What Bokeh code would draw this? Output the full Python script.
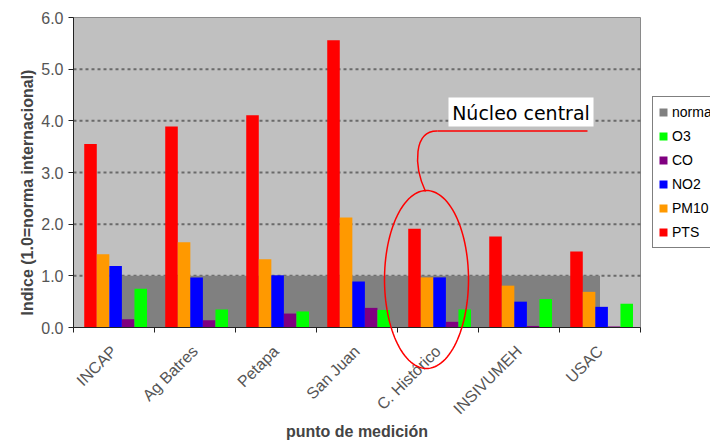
import math
import numpy as np
from bokeh.plotting import figure
from bokeh.models import (Range1d, LinearAxis, FixedTicker, Legend, LegendItem, Label,
                          PolyAnnotation, BoxAnnotation, PrintfTickFormatter, ColumnDataSource)
from bokeh.embed import file_html
from bokeh.resources import INLINE

# ---------------- data ----------------
sites = ["INCAP", "Ag Batres", "Petapa", "San Juan", "C. Histórico", "INSIVUMEH", "USAC"]
pts   = [3.55, 3.89, 4.11, 5.56, 1.91, 1.76, 1.47]
pm10  = [1.42, 1.65, 1.32, 2.13, 0.97, 0.81, 0.69]
no2   = [1.19, 0.97, 1.01, 0.89, 0.97, 0.50, 0.40]
co    = [0.16, 0.14, 0.27, 0.38, 0.11, 0.03, 0.02]
o3    = [0.75, 0.35, 0.31, 0.34, 0.35, 0.55, 0.46]
norma = [1.0, 1.0, 1.0, 1.0, 1.0, 1.0, 1.0]
y_ticks = [0, 1, 2, 3, 4, 5, 6]

series_names = ["PTS", "PM10", "NO2", "CO", "O3"]
series_values = [pts, pm10, no2, co, o3]
series_colors = ["#ff0000", "#ff9900", "#0000ff", "#800080", "#00ff00"]
legend_order = ["norma", "O3", "CO", "NO2", "PM10", "PTS"]

ncat = len(sites)
ymax = y_ticks[-1]
centers = [i + 0.5 for i in range(ncat)]
bounds = list(range(ncat + 1))

# ---------------- layout (pixels) ----------------
W, H = 710, 442                    # whole canvas is the frame
LEFT, TOP = 73, 17                 # plot-area top-left on the page
PLOT_W, PLOT_H = 567, 310          # plot-area size
xpx = PLOT_W / ncat
ypx = PLOT_H / ymax
x_range = Range1d(-LEFT / xpx, (W - LEFT) / xpx)
y_range = Range1d(-(H - TOP - PLOT_H) / ypx, ymax + TOP / ypx)

p = figure(x_range=x_range, y_range=y_range, frame_width=W, frame_height=H,
           min_border_left=0, min_border_top=0, min_border_right=0, min_border_bottom=0,
           output_backend="svg", toolbar_location=None,
           x_axis_location=None, y_axis_location=None,
           background_fill_color="white", border_fill_color="white")
p.outline_line_color = None
for g in p.grid:
    g.visible = False
    g.grid_line_color = None


def dx(px):
    return (px - LEFT) / xpx


def dy(py):
    return (TOP + PLOT_H - py) / ypx


# plot area background and dotted grid
p.quad(left=[0], right=[ncat], bottom=[0], top=[ymax], fill_color="#c0c0c0",
       line_color="#8a8a8a", line_width=1)
p.segment(x0=[0] * (len(y_ticks) - 2), x1=[ncat] * (len(y_ticks) - 2),
          y0=y_ticks[1:-1], y1=y_ticks[1:-1],
          line_color="#6a6a6a", line_dash="3 3", line_width=2)

# y axis at x = 0
ya = LinearAxis(fixed_location=0, bounds=(0, ymax), ticker=FixedTicker(ticks=y_ticks),
                formatter=PrintfTickFormatter(format="%.1f"),
                major_tick_in=0, major_tick_out=5, minor_tick_line_color=None,
                axis_line_color="#222222", major_tick_line_color="#222222",
                major_label_text_font="Liberation Sans", major_label_text_font_size="16px",
                major_label_text_color="#555555", major_label_standoff=5)
p.add_layout(ya, "left")
ytitle = Label(x=dx(27), y=dy(192), text="Indice (1.0=norma internacional)",
               angle=math.pi / 2, text_align="center", text_baseline="middle",
               text_font="Liberation Sans", text_font_size="16px", text_font_style="bold",
               text_color="#444444")
p.add_layout(ytitle)

# x axes at y = 0: tick marks between categories, labels at centers
tick_axis = LinearAxis(fixed_location=0, bounds=(0, ncat), ticker=FixedTicker(ticks=bounds),
                       major_label_text_font_size="0px", major_label_text_alpha=0,
                       major_label_standoff=0, major_tick_in=0, major_tick_out=5,
                       minor_tick_line_color=None, axis_line_color="#222222",
                       major_tick_line_color="#222222")
p.add_layout(tick_axis, "below")
cat_axis = LinearAxis(fixed_location=0, bounds=(0, ncat), ticker=FixedTicker(ticks=centers),
                      major_label_overrides={c: s for c, s in zip(centers, sites)},
                      axis_line_color=None, major_tick_line_color=None,
                      minor_tick_line_color=None, major_tick_in=0, major_tick_out=5,
                      major_label_orientation=math.pi / 4,
                      major_label_standoff=16,
                      major_label_text_font="Liberation Sans",
                      major_label_text_font_size="16px",
                      major_label_text_color="#555555",
                      axis_label="punto de medición",
                      axis_label_text_font="Liberation Sans",
                      axis_label_text_font_size="16px",
                      axis_label_text_font_style="bold",
                      axis_label_text_color="#444444",
                      axis_label_standoff=-3)
p.add_layout(cat_axis, "below")

# norma band
r_norma = p.varea(x=centers, y1=[0] * ncat, y2=norma, fill_color="#808080")

renderers = {"norma": r_norma}
bw = 0.155
for i, (name, vals, c) in enumerate(zip(series_names, series_values, series_colors)):
    src = ColumnDataSource(dict(x=[cx + (i - 2) * bw + 0.02 for cx in centers], top=vals))
    r = p.vbar(x="x", top="top", width=bw, source=src, fill_color=c, line_color=None)
    renderers[name] = r

legend = Legend(items=[LegendItem(label=n, renderers=[renderers[n]]) for n in legend_order],
                location=(652, H - 248), orientation="vertical",
                border_line_color="#000000", border_line_width=1,
                background_fill_color="white", background_fill_alpha=1,
                label_text_font="Liberation Sans", label_text_font_size="14px",
                label_text_color="#000000",
                glyph_width=10, glyph_height=10, label_height=20, label_standoff=4,
                spacing=4, padding=5, margin=0)
p.add_layout(legend)

# ---------------- annotation ----------------
t = np.linspace(0, 2 * np.pi, 120)
ecx, ecy, ea, eb = 426.0, 279.0, 42.0, 89.0
ell = PolyAnnotation(xs=[dx(ecx + ea * math.cos(a)) for a in t],
                     ys=[dy(ecy + eb * math.sin(a)) for a in t],
                     fill_alpha=0, line_color="#ff0000", line_alpha=1, line_width=1.5)
p.add_layout(ell)

p.bezier(x0=[dx(437)], y0=[dy(130.5)], x1=[dx(425)], y1=[dy(191)],
         cx0=[dx(413)], cy0=[dy(130)], cx1=[dx(413)], cy1=[dy(165)],
         line_color="#ff0000", line_width=1.5)
p.line(x=[dx(437), dx(587)], y=[dy(130.5), dy(130.5)], line_color="#ff0000", line_width=1.5)

box = BoxAnnotation(left=dx(448), right=dx(593), top=dy(97), bottom=dy(126),
                    fill_color="white", fill_alpha=1, line_color=None)
p.add_layout(box)
lab = Label(x=dx(520.5), y=dy(112), text="Núcleo central", text_font="DejaVu Sans",
            text_font_size="19px", text_color="#000000", text_align="center",
            text_baseline="middle")
p.add_layout(lab)

open("out.html", "w").write(file_html(p, INLINE))
